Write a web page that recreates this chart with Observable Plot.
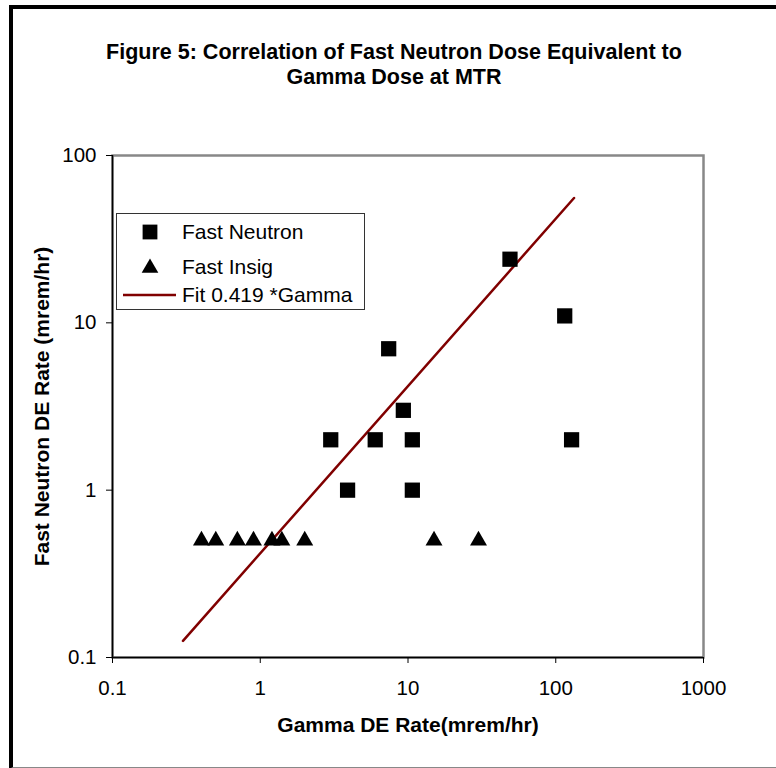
<!DOCTYPE html>
<html>
<head>
<meta charset="utf-8">
<script src="https://cdn.jsdelivr.net/npm/d3@7"></script>
<script src="https://cdn.jsdelivr.net/npm/@observablehq/plot@0.6"></script>
<style>
  html, body { margin: 0; padding: 0; background: #fff; }
  #page {
    position: relative; width: 776px; height: 768px; overflow: hidden;
    font-family: "Liberation Sans", Arial, sans-serif; color: #000;
  }
  #border {
    position: absolute; left: 9px; top: 5px; width: 800px; height: 758px;
    border-left: 4px solid #000; border-top: 4px solid #000;
    border-bottom: 2px solid #888; box-sizing: content-box;
  }
  #title {
    position: absolute; left: 9px; width: 770px; top: 40px;
    text-align: center; font-weight: bold; font-size: 21.5px; line-height: 25px;
  }
  #chart { position: absolute; left: 0; top: 0; }
  #legend { position: absolute; left: 116px; top: 213px; }
</style>
</head>
<body>
<div id="page">
  <div id="border"></div>
  <div id="title">Figure 5: Correlation of Fast Neutron Dose Equivalent to<br>Gamma Dose at MTR</div>
  <div id="chart"></div>
  <div id="legend"></div>
</div>
<script>
// Fast neutron dose equivalent vs gamma dose (mrem/hr)
const neutronGamma = [49, 115, 7.4, 9.3, 3, 6, 10.7, 128, 3.9, 10.7];
const neutronDose  = [24, 11, 7, 3, 2, 2, 2, 2, 1, 1];

// Readings below significance, plotted at 0.5 mrem/hr
const insigGamma = [0.4, 0.5, 0.7, 0.9, 1.2, 1.4, 2, 15, 30];
const insigDose  = [0.5, 0.5, 0.5, 0.5, 0.5, 0.5, 0.5, 0.5, 0.5];

// Linear fit through the origin: neutron = 0.419 * gamma
const fitSlope = 0.419;
const fitGamma = [0.3, 133];

const xTicks = [0.1, 1, 10, 100, 1000];
const yTicks = [0.1, 1, 10, 100];
const xLabel = "Gamma DE Rate(mrem/hr)";
const yLabel = "Fast Neutron DE Rate (mrem/hr)";

const seriesNames = ["Fast Neutron", "Fast Insig", "Fit 0.419 *Gamma"];
const fitColor = "#800000";

const neutron = neutronGamma.map((g, i) => ({gamma: g, dose: neutronDose[i]}));
const insig = insigGamma.map((g, i) => ({gamma: g, dose: insigDose[i]}));
const fit = fitGamma.map(g => ({gamma: g, dose: fitSlope * g}));

const font = "'Liberation Sans', Arial, sans-serif";

const plot = Plot.plot({
  width: 776,
  height: 768,
  marginLeft: 112,
  marginRight: 73,
  marginTop: 155,
  marginBottom: 111,
  style: {fontFamily: font, fontSize: "20px", color: "#000", background: "transparent"},
  x: {type: "log", domain: [0.1, 1000]},
  y: {type: "log", domain: [0.1, 100]},
  marks: [
    Plot.frame({stroke: "#888", strokeWidth: 2.5}),
    Plot.ruleX([0.1], {stroke: "#000", strokeWidth: 1.5}),
    Plot.ruleY([0.1], {stroke: "#000", strokeWidth: 1.5}),
    Plot.axisX({ticks: xTicks, tickFormat: d => String(d), tickSize: 6, tickPadding: 17, stroke: "#000", label: null, fontSize: 20.5}),
    Plot.axisY({ticks: yTicks, tickFormat: d => String(d), tickSize: 6, tickPadding: 10, stroke: "#000", label: null, fontSize: 20.5}),
    Plot.line(fit, {x: "gamma", y: "dose", stroke: fitColor, strokeWidth: 2.5}),
    Plot.dot(neutron, {x: "gamma", y: "dose", symbol: "square", r: 8.6, fill: "#000", stroke: "none"}),
    Plot.dot(insig, {x: "gamma", y: "dose", symbol: "triangle", r: 6.3, fill: "#000", stroke: "none"}),
    Plot.text([xLabel], {text: d => d, frameAnchor: "bottom", dy: 68, lineAnchor: "middle", fontWeight: "bold", fontSize: 21}),
    Plot.text([yLabel], {text: d => d, frameAnchor: "left", dx: -70, rotate: -90, textAnchor: "middle", lineAnchor: "middle", fontWeight: "bold", fontSize: 21})
  ]
});
document.getElementById("chart").appendChild(plot);

// Legend box
const lg = d3.select("#legend").append("svg")
  .attr("width", 250).attr("height", 98)
  .style("font-family", font);
lg.append("rect").attr("x", 0.5).attr("y", 0.5).attr("width", 248).attr("height", 96)
  .attr("fill", "#fff").attr("stroke", "#333").attr("stroke-width", 1);
const rows = [19, 54, 82];
lg.append("path").attr("d", d3.symbol(d3.symbolSquare, 14.8 * 14.8)())
  .attr("transform", `translate(34,${rows[0]})`).attr("fill", "#000");
lg.append("path").attr("d", d3.symbol(d3.symbolTriangle, 120)())
  .attr("transform", `translate(34,${rows[1] + 1})`).attr("fill", "#000");
lg.append("line").attr("x1", 7).attr("x2", 60).attr("y1", rows[2]).attr("y2", rows[2])
  .attr("stroke", fitColor).attr("stroke-width", 2.5);
seriesNames.forEach((name, i) => {
  lg.append("text").attr("x", 66).attr("y", rows[i]).attr("dy", "0.35em")
    .attr("font-size", 21).text(name);
});
</script>
</body>
</html>
